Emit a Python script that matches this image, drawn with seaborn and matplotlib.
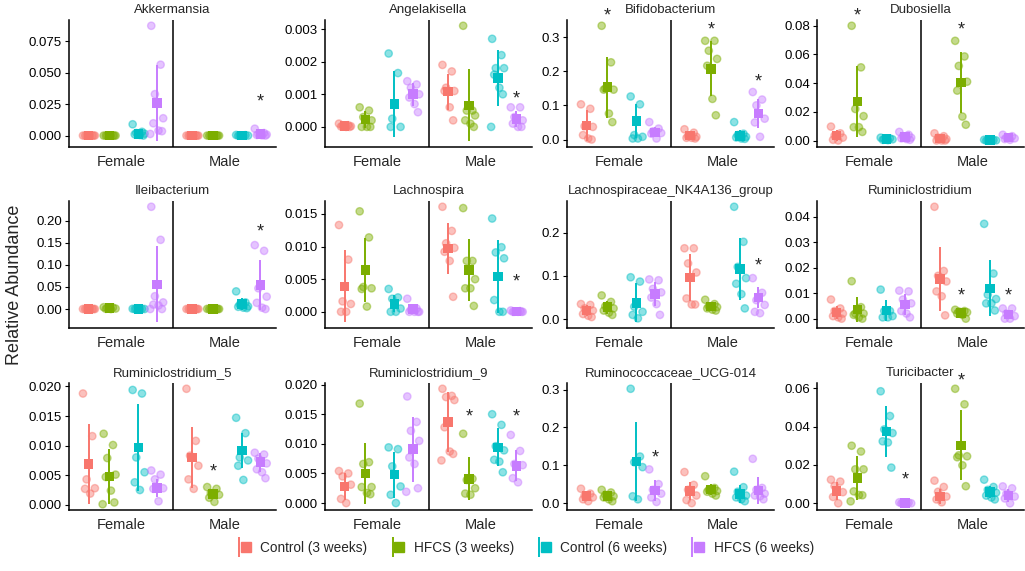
import matplotlib
matplotlib.use("Agg")
import matplotlib.pyplot as plt
from matplotlib.lines import Line2D
from matplotlib.legend_handler import HandlerTuple
from matplotlib.ticker import MultipleLocator, FormatStrFormatter
import seaborn as sns
import pandas as pd
import numpy as np

# groups / facets
groups = ['Control (3 weeks)', 'HFCS (3 weeks)', 'Control (6 weeks)', 'HFCS (6 weeks)']
sexes = ['Female', 'Male']
genera = ['Akkermansia', 'Angelakisella', 'Bifidobacterium', 'Dubosiella',
          'Ileibacterium', 'Lachnospira', 'Lachnospiraceae_NK4A136_group', 'Ruminiclostridium',
          'Ruminiclostridium_5', 'Ruminiclostridium_9', 'Ruminococcaceae_UCG-014', 'Turicibacter']
palette = ['#F8766D', '#7CAE00', '#00BFC4', '#C77CFF']

# points per slot: F-ctl3, F-hfcs3, F-ctl6, F-hfcs6, M-ctl3, M-hfcs3, M-ctl6, M-hfcs6
akk_pts = [[0, 0, 0, 0, 0, 0, 0], [0, 0, 0, 0, 0, 0, 0],
           [0.009, 0.003, 0.002, 0.0015, 0.001, 0.0005, 0],
           [0.0875, 0.0565, 0.033, 0.0138, 0.0098, 0.004, 0.0035, 0.0013],
           [0, 0, 0, 0, 0, 0, 0], [0, 0, 0, 0, 0, 0, 0],
           [0.0005, 0.0003, 0.0002, 0, 0, 0],
           [0.0055, 0.002, 0.001, 0.0008, 0.0005, 0.0002, 0]]
akk_mean = [0, 0, 0.0015, 0.026, 0, 0, 0.0002, 0.0015]
akk_sd = [0, 0, 0.003, 0.0305, 0, 0, 0.0002, 0.0018]

ang_pts = [[0.0001, 0.00005, 0.00003, 0.00002, 0.00001, 0, 0],
           [0.0006, 0.0005, 0.0003, 0.0002, 0, 0, 0],
           [0.00225, 0.00165, 0.00025, 0, 0],
           [0.0014, 0.0013, 0.0012, 0.001, 0.0009, 0.0007, 0.00045],
           [0.0019, 0.0017, 0.0012, 0.0011, 0.0011, 0.0006, 0.0002],
           [0.0031, 0.0005, 0.0005, 0.00035, 0.0002, 0.0001, 0],
           [0.0027, 0.0022, 0.0018, 0.0018, 0.0016, 0.0012, 0.001, 0],
           [0.0006, 0.0006, 0.0003, 0.0002, 0.0001, 0, 0]]
ang_mean = [0.00003, 0.00023, 0.0007, 0.001, 0.00108, 0.00066, 0.0015, 0.00025]
ang_sd = [0.00003, 0.00025, 0.001, 0.00035, 0.00055, 0.0011, 0.00085, 0.00025]

bif_pts = [[0.103, 0.09, 0.039, 0.037, 0.013, 0.003, 0],
           [0.333, 0.226, 0.149, 0.146, 0.146, 0.076, 0.051],
           [0.126, 0.103, 0.013, 0.008, 0.003, 0.003],
           [0.051, 0.032, 0.024, 0.019, 0.017, 0.003],
           [0.03, 0.02, 0.01, 0.008, 0.005, 0.005, 0.003],
           [0.289, 0.289, 0.26, 0.236, 0.216, 0.119, 0.071],
           [0.051, 0.017, 0.013, 0.008, 0.006, 0.003, 0.002],
           [0.139, 0.117, 0.1, 0.061, 0.05, 0.008]]
bif_mean = [0.041, 0.153, 0.054, 0.021, 0.012, 0.207, 0.011, 0.076]
bif_sd = [0.044, 0.09, 0.049, 0.015, 0.009, 0.08, 0.016, 0.043]

dub_pts = [[0.0097, 0.005, 0.0035, 0.002, 0.0005, 0],
           [0.08, 0.051, 0.022, 0.017, 0.0093, 0.0093, 0.006],
           [0.002, 0.0015, 0.001, 0.0008, 0.0005, 0.0003],
           [0.006, 0.004, 0.003, 0.002, 0.0015, 0.001, 0.0005],
           [0.005, 0.003, 0.002, 0.001, 0, 0, 0],
           [0.0695, 0.0586, 0.052, 0.041, 0.0348, 0.0167, 0.011],
           [0.0005, 0.0003, 0.0002, 0.0001, 0, 0],
           [0.004, 0.003, 0.002, 0.0015, 0.001, 0.0005]]
dub_mean = [0.0035, 0.0271, 0.001, 0.0025, 0.0015, 0.0405, 0.0002, 0.002]
dub_sd = [0.0035, 0.025, 0.0006, 0.0018, 0.002, 0.021, 0.0002, 0.0013]

ile_pts = [[0, 0, 0, 0, 0, 0, 0],
           [0.004, 0.003, 0.002, 0.001, 0.0005, 0],
           [0.0005, 0.0003, 0.0002, 0, 0, 0],
           [0.232, 0.157, 0.029, 0.015, 0.01, 0.008, 0, 0],
           [0, 0, 0, 0, 0, 0, 0],
           [0.0003, 0.0002, 0, 0, 0, 0, 0],
           [0.04, 0.015, 0.01, 0.006, 0.005, 0.003, 0.002],
           [0.145, 0.132, 0.047, 0.028, 0.014, 0.003, 0]]
ile_mean = [0, 0.002, 0.0002, 0.056, 0, 0.0001, 0.0116, 0.054]
ile_sd = [0, 0.0015, 0.0002, 0.086, 0, 0.0001, 0.013, 0.057]

lac_pts = [[0.0133, 0.008, 0.0016, 0.0012, 0, 0],
           [0.0154, 0.0114, 0.0038, 0.0036, 0.0035, 0.0008],
           [0.0035, 0.0022, 0.002, 0.0005, 0, 0],
           [0.002, 0.0005, 0.0003, 0, 0, 0, 0],
           [0.0161, 0.0124, 0.0105, 0.0098, 0.0092, 0.0078, 0.0023],
           [0.0159, 0.0078, 0.0078, 0.005, 0.0036, 0.0036, 0.0009],
           [0.0143, 0.0099, 0.0091, 0.0082, 0.0018, 0, 0],
           [0.0002, 0.0001, 0, 0, 0, 0, 0]]
lac_mean = [0.0039, 0.0064, 0.0012, 0.0004, 0.0097, 0.0064, 0.0054, 0.00003]
lac_sd = [0.0055, 0.0049, 0.0013, 0.0007, 0.0039, 0.0047, 0.0056, 0.00005]

nk_pts = [[0.035, 0.033, 0.025, 0.02, 0.012, 0.008, 0.005],
          [0.055, 0.04, 0.03, 0.025, 0.02, 0.015, 0.01],
          [0.097, 0.087, 0.029, 0.017, 0.01, 0.002],
          [0.092, 0.09, 0.07, 0.062, 0.05, 0.035, 0.01],
          [0.164, 0.164, 0.129, 0.108, 0.048, 0.034, 0.034],
          [0.045, 0.035, 0.03, 0.028, 0.025, 0.022, 0.02],
          [0.26, 0.179, 0.121, 0.095, 0.082, 0.058, 0.025],
          [0.095, 0.061, 0.044, 0.033, 0.017, 0.014]]
nk_mean = [0.02, 0.028, 0.038, 0.058, 0.096, 0.029, 0.116, 0.05]
nk_sd = [0.012, 0.015, 0.045, 0.027, 0.054, 0.008, 0.072, 0.024]

rum_pts = [[0.0075, 0.004, 0.003, 0.002, 0.001, 0.0005, 0],
           [0.0147, 0.0045, 0.002, 0.002, 0.0015, 0.0005, 0],
           [0.0114, 0.003, 0.003, 0.001, 0.0005, 0.0005],
           [0.011, 0.0107, 0.0075, 0.006, 0.003, 0.002, 0.0005],
           [0.0439, 0.0187, 0.0168, 0.0146, 0.0107, 0.0088, 0.0013],
           [0.0035, 0.003, 0.0028, 0.0025, 0.002, 0.0015, 0],
           [0.0372, 0.0177, 0.0094, 0.0077, 0.006, 0.006, 0.0032],
           [0.004, 0.004, 0.002, 0.001, 0, 0]]
rum_mean = [0.0024, 0.0036, 0.0032, 0.0055, 0.0155, 0.0022, 0.0119, 0.0016]
rum_sd = [0.0025, 0.005, 0.0042, 0.004, 0.0126, 0.001, 0.011, 0.0017]

r5_pts = [[0.0188, 0.0116, 0.0043, 0.0028, 0.0027, 0.0019],
          [0.012, 0.0101, 0.0079, 0.0051, 0.0047, 0.0024, 0.0004, 0.0001],
          [0.0194, 0.0188, 0.008, 0.0055, 0.0038, 0.0025],
          [0.0058, 0.0051, 0.0043, 0.0028, 0.0027, 0.0006],
          [0.0196, 0.0108, 0.0083, 0.0066, 0.0043, 0.0027],
          [0.003, 0.0027, 0.002, 0.0017, 0.0012, 0.0005],
          [0.0147, 0.0121, 0.008, 0.0075, 0.0066, 0.0042],
          [0.0088, 0.0085, 0.0078, 0.007, 0.006, 0.0055, 0.0045]]
r5_mean = [0.0069, 0.0048, 0.0097, 0.0028, 0.008, 0.0018, 0.0092, 0.0072]
r5_sd = [0.0067, 0.0046, 0.0074, 0.0015, 0.0052, 0.0009, 0.003, 0.0016]

r9_pts = [[0.0054, 0.005, 0.0045, 0.0031, 0.0007, 0],
          [0.0168, 0.0069, 0.0066, 0.0027, 0.0027, 0.0017, 0.0015],
          [0.0094, 0.0091, 0.0062, 0.0028, 0.0014, 0],
          [0.018, 0.0137, 0.0122, 0.0105, 0.0077, 0.0066, 0.0025, 0.0019],
          [0.0193, 0.0181, 0.0179, 0.0174, 0.0128, 0.0087, 0.0083, 0.0072],
          [0.0117, 0.0041, 0.0039, 0.0025, 0.0016, 0.0014],
          [0.015, 0.0132, 0.0096, 0.0089, 0.0073, 0.007, 0.0052],
          [0.0115, 0.0088, 0.0066, 0.0064, 0.0042, 0.0035]]
r9_mean = [0.0028, 0.005, 0.0048, 0.0091, 0.0137, 0.0041, 0.0094, 0.0063]
r9_sd = [0.0023, 0.0052, 0.0039, 0.0055, 0.005, 0.0036, 0.0032, 0.0026]

ucg_pts = [[0.038, 0.025, 0.02, 0.015, 0.01, 0.005],
           [0.035, 0.028, 0.022, 0.018, 0.015, 0.01, 0.005],
           [0.302, 0.123, 0.108, 0.095, 0.018, 0.01],
           [0.089, 0.05, 0.035, 0.025, 0.015, 0.003],
           [0.082, 0.048, 0.035, 0.02, 0.008, 0],
           [0.071, 0.04, 0.035, 0.032, 0.03, 0.025, 0.02],
           [0.083, 0.042, 0.03, 0.02, 0.015, 0.01, 0.005],
           [0.117, 0.04, 0.035, 0.025, 0.02, 0.018, 0.01]]
ucg_mean = [0.018, 0.019, 0.11, 0.033, 0.032, 0.036, 0.024, 0.033]
ucg_sd = [0.012, 0.01, 0.105, 0.028, 0.025, 0.015, 0.025, 0.036]

tur_pts = [[0.0123, 0.0113, 0.009, 0.0058, 0.0033, 0],
           [0.03, 0.027, 0.0177, 0.0177, 0.0062, 0.0043, 0.0042, 0.001],
           [0.0584, 0.0455, 0.0385, 0.0366, 0.0323, 0.0317, 0.0186],
           [0.0005, 0.0003, 0.0002, 0, 0, 0],
           [0.0118, 0.0085, 0.006, 0.0035, 0.002, 0.0005],
           [0.0597, 0.0516, 0.025, 0.0245, 0.024, 0.0198, 0.0089],
           [0.0123, 0.0085, 0.007, 0.0055, 0.004, 0.003, 0.002],
           [0.0088, 0.0078, 0.005, 0.0035, 0.0025, 0]]
tur_mean = [0.0064, 0.0131, 0.0375, 0.0002, 0.0035, 0.0302, 0.0058, 0.004]
tur_sd = [0.0045, 0.0114, 0.0134, 0.0002, 0.004, 0.0183, 0.0032, 0.0032]

all_pts = [akk_pts, ang_pts, bif_pts, dub_pts, ile_pts, lac_pts,
           nk_pts, rum_pts, r5_pts, r9_pts, ucg_pts, tur_pts]
all_mean = [akk_mean, ang_mean, bif_mean, dub_mean, ile_mean, lac_mean,
            nk_mean, rum_mean, r5_mean, r9_mean, ucg_mean, tur_mean]
all_sd = [akk_sd, ang_sd, bif_sd, dub_sd, ile_sd, lac_sd,
          nk_sd, rum_sd, r5_sd, r9_sd, ucg_sd, tur_sd]

# significance stars: (genus index, slot, y)
stars = [(0, 7, 0.0265), (1, 7, 0.00085), (2, 1, 0.362), (2, 5, 0.32), (2, 7, 0.168),
         (3, 1, 0.087), (3, 5, 0.077), (4, 7, 0.175), (5, 7, 0.0046), (6, 7, 0.124),
         (7, 5, 0.0088), (7, 7, 0.0088), (8, 5, 0.0056), (9, 5, 0.0146), (9, 7, 0.0146),
         (10, 3, 0.119), (11, 3, 0.012), (11, 5, 0.064)]

tick_step = [0.025, 0.001, 0.1, 0.02, 0.05, 0.005, 0.1, 0.01, 0.005, 0.005, 0.1, 0.02]
tick_dec = [3, 3, 1, 2, 2, 3, 1, 2, 3, 3, 1, 2]

# ---- layout helpers ----
offsets = [-0.31, -0.11, 0.17, 0.35]
jit = [-0.055, 0.035, -0.02, 0.06, -0.035, 0.015, 0.048, -0.065]

rows = []
mrows = []
for g, name in enumerate(genera):
    for slot in range(8):
        s, k = divmod(slot, 4)
        xc = s + offsets[k]
        for i, v in enumerate(all_pts[g][slot]):
            rows.append(dict(genus=name, group=groups[k], x=xc + jit[i % 8], value=v))
        mrows.append(dict(genus=name, group=groups[k], x=xc,
                          mean=all_mean[g][slot], sd=all_sd[g][slot]))
df = pd.DataFrame(rows)
dm = pd.DataFrame(mrows)

sns.set_theme(style='ticks')
plt.rcParams['font.family'] = ['Liberation Sans', 'DejaVu Sans']

W, H = 1025, 571
fig = plt.figure(figsize=(W / 100, H / 100), dpi=100)
col_left = [69, 325, 567, 817]
row_top = [20, 201, 383]
aw, ah = 207, 127
pal = dict(zip(groups, palette))

for g, name in enumerate(genera):
    r, c = divmod(g, 4)
    ax = fig.add_axes([col_left[c] / W, 1 - (row_top[r] + ah) / H, aw / W, ah / H])
    sub = df[df.genus == name]
    subm = dm[dm.genus == name]
    sns.scatterplot(data=sub, x='x', y='value', hue='group', palette=pal, ax=ax,
                    legend=False, s=28, alpha=0.45, edgecolor='face', linewidth=1.0)
    for _, m in subm.iterrows():
        ax.vlines(m['x'], m['mean'] - m['sd'], m['mean'] + m['sd'],
                  color=pal[m['group']], lw=1.4, zorder=3)
    sns.scatterplot(data=subm, x='x', y='mean', hue='group', palette=pal, ax=ax,
                    legend=False, marker='s', s=48, edgecolor='none', zorder=4)
    lo = min(sub.value.min(), (subm['mean'] - subm['sd']).min())
    hi = max(sub.value.max(), (subm['mean'] + subm['sd']).max())
    pad = (hi - lo) * 0.05
    ax.set_ylim(lo - pad, hi + pad)
    ax.set_xlim(-0.5, 1.5)
    ax.axvline(0.5, color='black', lw=1.1)
    ax.yaxis.set_major_locator(MultipleLocator(tick_step[g]))
    ax.yaxis.set_major_formatter(FormatStrFormatter('%.' + str(tick_dec[g]) + 'f'))
    ax.set_xticks([0, 1])
    ax.set_xticklabels(sexes, fontsize=10.5)
    ax.tick_params(axis='x', length=0, pad=6)
    ax.tick_params(axis='y', length=3, width=0.8, labelsize=9.5, colors='black', pad=2)
    ax.set_xlabel('')
    ax.set_ylabel('')
    for sp in ['top', 'right']:
        ax.spines[sp].set_visible(False)
    for sp in ['left', 'bottom']:
        ax.spines[sp].set_linewidth(1.1)
        ax.spines[sp].set_color('black')
    ax.set_title(name, fontsize=9.5, pad=5)
    for gi, slot, y in stars:
        if gi == g:
            s, k = divmod(slot, 4)
            ax.text(s + offsets[k], y, '*', ha='center', va='center', fontsize=13,
                    clip_on=False)

fig.text(15 / W, 1 - 285 / H, 'Relative Abundance', rotation=90, ha='center',
         va='center', fontsize=13)

handles = [(Line2D([], [], color=p, marker='|', markersize=14, markeredgewidth=1.4, ls='none'),
            Line2D([], [], color=p, marker='s', markersize=7, ls='none')) for p in palette]
fig.legend(handles, groups, loc='center', bbox_to_anchor=(0.512, 1 - 548 / H), ncol=4,
           frameon=False, fontsize=9.8, handler_map={tuple: HandlerTuple(ndivide=None, pad=0)},
           handlelength=1.0, columnspacing=1.6, handletextpad=0.8)

fig.savefig('out.png', dpi=100)
